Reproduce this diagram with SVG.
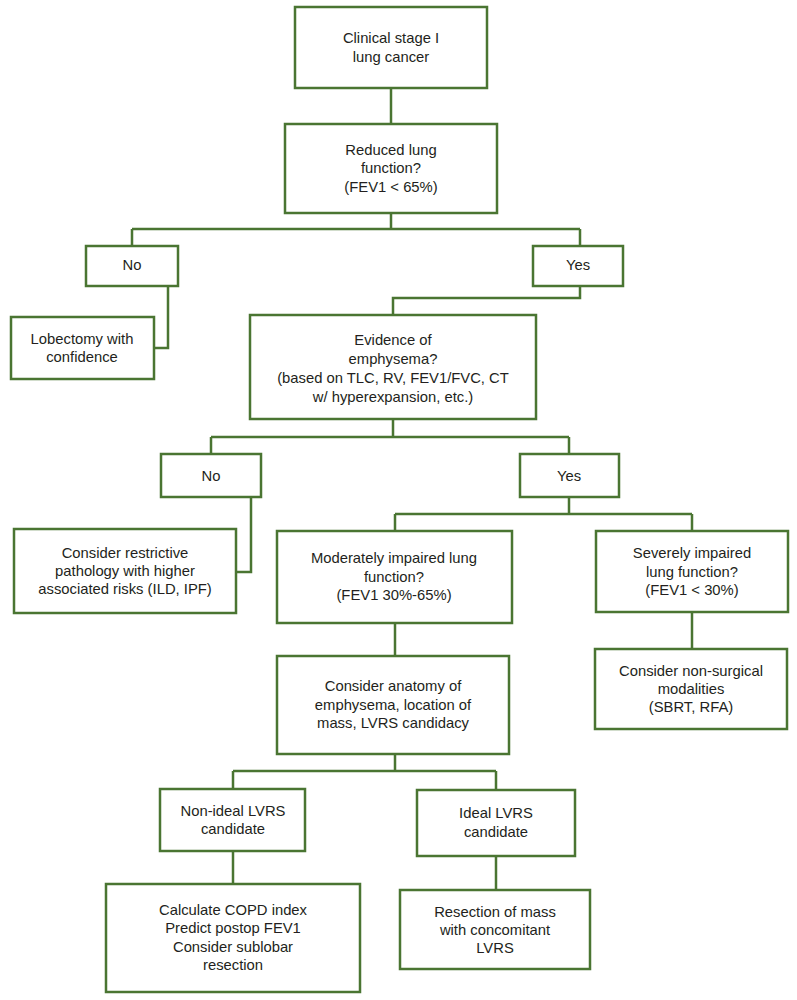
<svg xmlns="http://www.w3.org/2000/svg" width="797" height="1000" viewBox="0 0 797 1000">
<style>
rect.n{fill:#fff;stroke:#4a7532;stroke-width:2.5}
#connectors path{fill:none;stroke:#4a7532;stroke-width:2.5}
text{font-family:"Liberation Sans",Arial,sans-serif;font-size:14.8px;fill:#231f20;text-anchor:middle}
</style>
<rect width="797" height="1000" fill="#fff"/>
<g id="connectors">
<path d="M391 88V124"/>
<path d="M391 213V229M132 229H580M132 229V246M580 229V246"/>
<path d="M168 286V348H154"/>
<path d="M580 286V298H393V315"/>
<path d="M393 419V437M211 437H569M211 437V454M569 437V454"/>
<path d="M251 497V572H236"/>
<path d="M569 497V514M395 514H692M395 514V531M692 514V531"/>
<path d="M692 612V649"/>
<path d="M395 623V656"/>
<path d="M395 754V771M233 771H496M233 771V789M496 771V790"/>
<path d="M233 851V884"/>
<path d="M496 856V890"/>
</g>
<g id="n1"><rect class="n" x="295" y="7" width="192" height="81"/><text x="391" y="43">Clinical stage I</text><text x="391" y="62">lung cancer</text></g>
<g id="n2"><rect class="n" x="285" y="124" width="212" height="89"/><text x="391" y="155">Reduced lung</text><text x="391" y="173">function?</text><text x="391" y="192">(FEV1 &lt; 65%)</text></g>
<g id="n3"><rect class="n" x="86" y="246" width="92" height="40"/><text x="132" y="270">No</text></g>
<g id="n4"><rect class="n" x="533" y="246" width="90" height="40"/><text x="578" y="270">Yes</text></g>
<g id="n5"><rect class="n" x="11" y="317" width="143" height="62"/><text x="82" y="344">Lobectomy with</text><text x="82" y="362">confidence</text></g>
<g id="n6"><rect class="n" x="250" y="315" width="286" height="104"/><text x="393" y="345">Evidence of</text><text x="393" y="364">emphysema?</text><text x="393" y="383">(based on TLC, RV, FEV1/FVC, CT</text><text x="393" y="402">w/ hyperexpansion, etc.)</text></g>
<g id="n7"><rect class="n" x="161" y="454" width="100" height="43"/><text x="211" y="481">No</text></g>
<g id="n8"><rect class="n" x="520" y="454" width="99" height="43"/><text x="569" y="481">Yes</text></g>
<g id="n9"><rect class="n" x="14" y="529" width="222" height="84"/><text x="125" y="558">Consider restrictive</text><text x="125" y="576">pathology with higher</text><text x="125" y="594">associated risks (ILD, IPF)</text></g>
<g id="n10"><rect class="n" x="277" y="531" width="235" height="92"/><text x="394" y="563">Moderately impaired lung</text><text x="394" y="582">function?</text><text x="394" y="600">(FEV1 30%-65%)</text></g>
<g id="n11"><rect class="n" x="596" y="531" width="192" height="81"/><text x="692" y="558">Severely impaired</text><text x="692" y="577">lung function?</text><text x="692" y="595">(FEV1 &lt; 30%)</text></g>
<g id="n12"><rect class="n" x="595" y="649" width="192" height="80"/><text x="691" y="676">Consider non-surgical</text><text x="691" y="694">modalities</text><text x="691" y="712">(SBRT, RFA)</text></g>
<g id="n13"><rect class="n" x="277" y="656" width="232" height="98"/><text x="393" y="691">Consider anatomy of</text><text x="393" y="710">emphysema, location of</text><text x="393" y="728">mass, LVRS candidacy</text></g>
<g id="n14"><rect class="n" x="160" y="789" width="145" height="62"/><text x="233" y="816">Non-ideal LVRS</text><text x="233" y="834">candidate</text></g>
<g id="n15"><rect class="n" x="417" y="790" width="158" height="66"/><text x="496" y="818">Ideal LVRS</text><text x="496" y="837">candidate</text></g>
<g id="n16"><rect class="n" x="106" y="884" width="254" height="108"/><text x="233" y="915">Calculate COPD index</text><text x="233" y="933">Predict postop FEV1</text><text x="233" y="952">Consider sublobar</text><text x="233" y="970">resection</text></g>
<g id="n17"><rect class="n" x="400" y="890" width="190" height="79"/><text x="495" y="917">Resection of mass</text><text x="495" y="935">with concomitant</text><text x="495" y="953">LVRS</text></g>
</svg>
